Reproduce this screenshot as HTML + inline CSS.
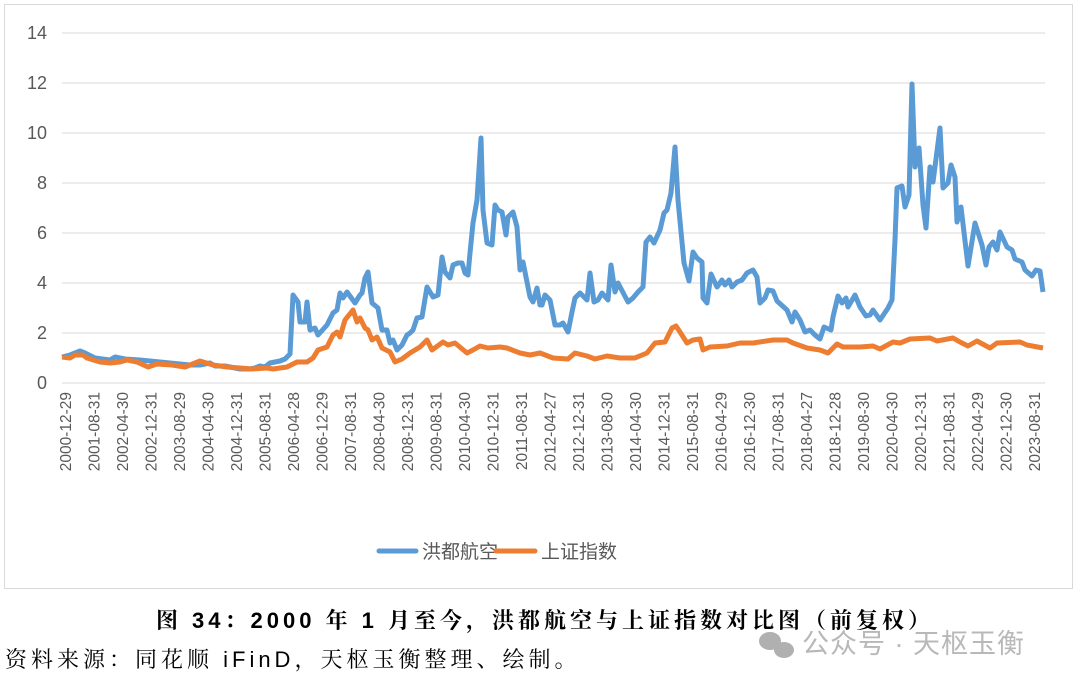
<!DOCTYPE html>
<html><head><meta charset="utf-8"><style>
body{margin:0;background:#fff;width:1080px;height:689px;overflow:hidden;}
svg{display:block}
</style></head><body>
<svg width="1080" height="689" xmlns="http://www.w3.org/2000/svg" font-family="Liberation Sans, Noto Sans CJK SC, sans-serif">
<rect x="4.5" y="4.5" width="1068" height="584" fill="#fff" stroke="#d9d9d9" stroke-width="1"/>
<g stroke="#d9d9d9" stroke-width="1">
<line x1="62" x2="1045" y1="33" y2="33"/><line x1="62" x2="1045" y1="83" y2="83"/>
<line x1="62" x2="1045" y1="133" y2="133"/><line x1="62" x2="1045" y1="183" y2="183"/>
<line x1="62" x2="1045" y1="233" y2="233"/><line x1="62" x2="1045" y1="283" y2="283"/>
<line x1="62" x2="1045" y1="333" y2="333"/><line x1="62" x2="1045" y1="383" y2="383"/>
</g>
<g fill="#595959" font-size="18" text-anchor="end">
<text x="47" y="39">14</text><text x="47" y="89">12</text><text x="47" y="139">10</text>
<text x="47" y="189">8</text><text x="47" y="239">6</text><text x="47" y="289">4</text>
<text x="47" y="339">2</text><text x="47" y="389">0</text>
</g>
<g id="xl" fill="#595959" font-size="15.5" text-anchor="end"></g>
<polyline fill="none" stroke="#5b9bd5" stroke-width="5" stroke-linejoin="round" points="62,357 70,355 80,351 85,353 95,358 110,360 115,357 125,359 140,360 160,362 180,364 190,365 200,365 210,363 215,366 225,366 235,368 240,369 250,369 255,368 260,366 265,367 270,363 275,362 280,361 285,359 290,354 293,295 298,302 300,322 305,322 307,302 310,330 315,328 318,335 327,325 333,313 337,310 340,293 343,298 347,292 355,303 360,295 362,293 365,278 368,272 372,303 378,308 382,330 387,330 390,343 393,340 397,350 402,345 407,335 410,333 413,330 417,318 422,317 427,287 433,297 438,295 442,257 445,272 450,278 453,265 458,263 462,263 465,273 468,275 470,253 473,223 477,200 481,138 483,210 487,243 492,245 495,205 498,210 502,212 506,235 508,217 513,212 517,227 520,270 523,262 530,297 533,302 537,288 540,305 542,305 545,295 550,300 555,325 560,325 563,323 568,332 572,312 575,298 580,293 587,300 590,273 594,302 598,300 602,293 608,300 611,265 615,292 618,283 628,302 633,298 638,292 643,287 646,242 650,237 654,243 660,230 664,213 667,210 671,193 675,147 678,200 684,263 689,281 693,252 697,258 702,262 703,298 707,303 711,274 717,287 722,280 725,285 729,280 732,287 737,282 742,280 747,273 753,270 757,277 760,303 765,298 768,290 773,291 777,301 787,310 792,322 795,312 800,320 805,332 810,330 815,335 820,339 824,327 831,330 833,317 838,296 842,303 846,298 848,307 855,295 860,307 866,316 870,315 873,310 880,320 888,308 892,300 895,240 897,188 902,186 905,207 909,195 912,84 915,167 919,148 923,205 926,228 930,167 933,182 940,128 943,188 948,183 951,165 955,177 957,222 961,207 968,266 975,223 982,245 986,265 989,247 993,242 997,250 1000,232 1007,247 1012,250 1015,259 1022,262 1025,270 1032,276 1036,270 1040,271 1043,292"/>
<polyline fill="none" stroke="#ed7d31" stroke-width="5" stroke-linejoin="round" points="62,357 70,358 75,355 83,355 87,358 100,362 110,363 120,362 127,360 137,362 148,367 157,364 172,365 185,367 200,361 213,365 227,367 240,368 253,369 267,368 273,369 287,367 297,362 307,362 313,358 318,350 327,347 333,335 337,332 340,337 345,320 353,310 357,322 360,318 365,328 368,330 372,340 377,337 382,348 390,352 395,362 402,359 410,353 420,347 427,340 432,350 443,342 448,345 455,343 467,353 473,350 480,346 488,348 500,347 507,348 520,353 530,355 540,353 553,358 568,359 575,353 587,356 595,359 607,356 620,358 635,358 647,353 655,343 665,342 672,328 676,326 680,332 687,343 693,340 700,339 703,350 710,347 727,346 740,343 753,343 773,340 787,340 793,343 807,348 820,350 828,353 837,344 843,347 860,347 873,346 880,349 893,342 900,343 910,339 930,338 937,341 953,338 960,342 968,346 977,341 990,348 997,343 1020,342 1027,345 1043,348"/>
<line x1="379" x2="416" y1="551" y2="551" stroke="#5b9bd5" stroke-width="5" stroke-linecap="round"/>
<text x="422" y="558" font-size="19" fill="#595959">洪都航空</text>
<line x1="496" x2="535" y1="551" y2="551" stroke="#ed7d31" stroke-width="5" stroke-linecap="round"/>
<text x="541" y="558" font-size="19" fill="#595959">上证指数</text>
<text x="545" y="628" font-size="22" font-weight="bold" text-anchor="middle" letter-spacing="4" fill="#000" font-family="Liberation Sans, Noto Serif CJK SC, serif">图 34：2000 年 1 月至今，洪都航空与上证指数对比图（前复权）</text>
<text x="5" y="667" font-size="22" letter-spacing="4" fill="#000" font-family="Liberation Sans, Noto Serif CJK SC, serif">资料来源：同花顺 iFinD，天枢玉衡整理、绘制。</text>
<g fill="#b0b0b0"><ellipse cx="770" cy="641" rx="11" ry="9"/><ellipse cx="784" cy="650" rx="10" ry="8"/></g>
<text x="802" y="653" font-size="27" letter-spacing="1" fill="#b8b8b8">公众号 · 天枢玉衡</text>
</svg>
<script>
var g=document.getElementById('xl');
var labels=["2000-12-29","2001-08-31","2002-04-30","2002-12-31","2003-08-29","2004-04-30","2004-12-31","2005-08-31","2006-04-28","2006-12-29","2007-08-31","2008-04-30","2008-12-31","2009-08-31","2010-04-30","2010-12-31","2011-08-31","2012-04-27","2012-12-31","2013-08-30","2014-04-30","2014-12-31","2015-08-31","2016-04-29","2016-12-30","2017-08-31","2018-04-27","2018-12-28","2019-08-30","2020-04-30","2020-12-31","2021-08-31","2022-04-29","2022-12-30","2023-08-31"];
labels.forEach(function(s,i){var x=66+28.5*i+5;var t=document.createElementNS('http://www.w3.org/2000/svg','text');
t.setAttribute('transform','translate('+x+',392) rotate(-90)');t.textContent=s;g.appendChild(t);});
</script>
</body></html>
